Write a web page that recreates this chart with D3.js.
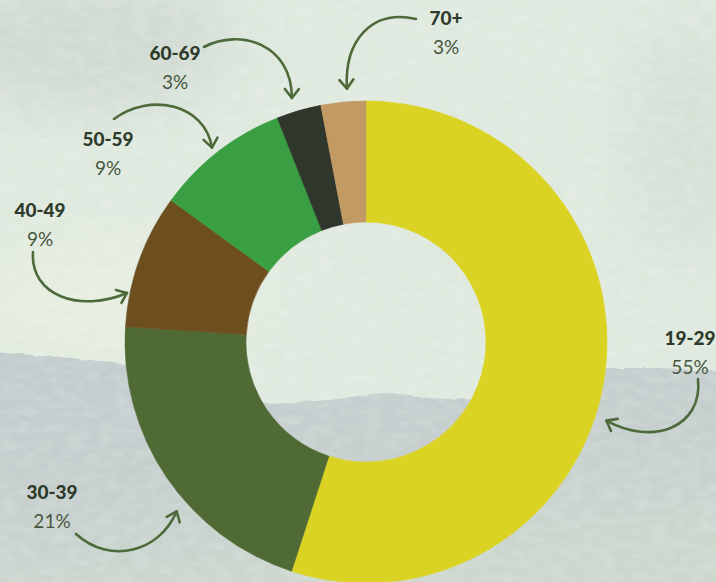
<!DOCTYPE html>
<html>
<head>
<meta charset="utf-8">
<script src="https://cdn.jsdelivr.net/npm/d3@7/dist/d3.min.js"></script>
<style>
  html, body { margin: 0; padding: 0; background: #dde8dc; }
  svg { display: block; }
</style>
</head>
<body>
<svg id="chart" width="716" height="582"></svg>
<script>
// Age groups and their share of respondents (%)
const ageGroups = ["19-29", "30-39", "40-49", "50-59", "60-69", "70+"];
const shares = [55, 21, 9, 9, 3, 3];
const shareLabels = ["55%", "21%", "9%", "9%", "3%", "3%"];
const sliceColors = ["#dbd324", "#4f6a34", "#6d4f1f", "#3a9f42", "#2f362c", "#c29a63"];

// Callout layout: label anchor, arrow start, arrow controls, and the angle/radius
// (clockwise from 12 o'clock) where the arrow tip touches the ring.
const callouts = [
  { label: [690, 345], start: [698, 379], c1: [703, 428], c2: [652, 446], tipDeg: 108.1, tipR: 253 },
  { label: [52, 499],  start: [76, 534],  c1: [110, 565], c2: [160, 552], tipDeg: -131.8, tipR: 254 },
  { label: [40, 217],  start: [33, 252],  c1: [30, 296],  c2: [80, 313],  tipDeg: -78.4, tipR: 244 },
  { label: [108, 146], start: [114, 119], c1: [150, 92],  c2: [205, 104], tipDeg: -38.4, tipR: 248 },
  { label: [175, 60],  start: [204, 47],  c1: [240, 28],  c2: [292, 44],  tipDeg: -16.9, tipR: 255 },
  { label: [446, 25],  start: [416, 19],  c1: [372, 9],   c2: [344, 40],  tipDeg: -4.3,  tipR: 254 }
];

const width = 716, height = 582;
const cx = 366, cy = 342;
const outerR = 241, innerR = 120;

const svg = d3.select("#chart");
const defs = svg.append("defs");

// paper grain
const grain = defs.append("filter").attr("id", "grain")
  .attr("x", 0).attr("y", 0).attr("width", "100%").attr("height", "100%");
grain.append("feTurbulence").attr("type", "fractalNoise")
  .attr("baseFrequency", "0.06 0.12").attr("numOctaves", 3).attr("seed", 4).attr("result", "n");
grain.append("feColorMatrix").attr("in", "n").attr("type", "matrix")
  .attr("values", "0 0 0 0 1  0 0 0 0 1  0 0 0 0 1  0 0 0 -1.6 1.05");

const soft = defs.append("filter").attr("id", "soft")
  .attr("x", "-20%").attr("y", "-20%").attr("width", "140%").attr("height", "140%");
soft.append("feGaussianBlur").attr("stdDeviation", 30);

const edge = defs.append("filter").attr("id", "edge");
edge.append("feTurbulence").attr("type", "fractalNoise").attr("baseFrequency", 0.07)
  .attr("numOctaves", 2).attr("seed", 7).attr("result", "t");
edge.append("feDisplacementMap").attr("in", "SourceGraphic").attr("in2", "t")
  .attr("scale", 4).attr("xChannelSelector", "R").attr("yChannelSelector", "G");

const bandGrad = defs.append("linearGradient").attr("id", "band")
  .attr("x1", 0).attr("y1", 0).attr("x2", 0.3).attr("y2", 1);
bandGrad.append("stop").attr("offset", 0).attr("stop-color", "#c3cbcd");
bandGrad.append("stop").attr("offset", 0.55).attr("stop-color", "#c6cfce");
bandGrad.append("stop").attr("offset", 1).attr("stop-color", "#ccd7ce");

const arrowHead = defs.append("marker").attr("id", "head")
  .attr("markerUnits", "userSpaceOnUse").attr("orient", "auto")
  .attr("markerWidth", 20).attr("markerHeight", 20)
  .attr("viewBox", "-12 -10 14 20").attr("refX", 0).attr("refY", 0)
  .style("overflow", "visible");
arrowHead.append("path").attr("d", "M-9,-7 L0,0 L-9,7")
  .attr("fill", "none").attr("stroke", "#4d6a3b").attr("stroke-width", 2.6)
  .attr("stroke-linecap", "round").attr("stroke-linejoin", "round");

// background wash
const bg = svg.append("g");
bg.append("rect").attr("width", width).attr("height", height).attr("fill", "#dfe9de");
bg.append("ellipse").attr("cx", 80).attr("cy", 40).attr("rx", 150).attr("ry", 70)
  .attr("fill", "#cad4cd").attr("opacity", 0.7).attr("filter", "url(#soft)");
bg.append("ellipse").attr("cx", 690).attr("cy", 140).attr("rx", 60).attr("ry", 120)
  .attr("fill", "#d0dbd1").attr("opacity", 0.6).attr("filter", "url(#soft)");
bg.append("ellipse").attr("cx", 120).attr("cy", 300).attr("rx", 140).attr("ry", 60)
  .attr("fill", "#e7f0df").attr("opacity", 0.8).attr("filter", "url(#soft)");

const bandPts = [[-10, 352], [60, 357], [130, 364], [200, 385], [270, 404], [330, 400],
  [380, 393], [430, 398], [480, 400], [540, 384], [600, 368], [660, 368], [726, 372],
  [726, 592], [-10, 592]];
bg.append("path")
  .attr("d", d3.line().curve(d3.curveLinear)(bandPts) + "Z")
  .attr("fill", "url(#band)").attr("filter", "url(#edge)");
bg.append("rect").attr("width", width).attr("height", height)
  .attr("filter", "url(#grain)").attr("opacity", 0.2);

// donut
const pie = d3.pie().value(d => d).sort(null);
const arc = d3.arc().innerRadius(innerR).outerRadius(outerR);
const arcs = pie(shares);

const ring = svg.append("g").attr("transform", `translate(${cx},${cy})`);
ring.selectAll("path.slice")
  .data(arcs)
  .join("path")
  .attr("class", "slice")
  .attr("d", arc)
  .attr("fill", (d, i) => sliceColors[i])
  .attr("stroke", (d, i) => sliceColors[i])
  .attr("stroke-width", 0.6);

// callout arrows
const toRad = Math.PI / 180;
const arrows = svg.append("g");
callouts.forEach((c, i) => {
  const p = d3.pointRadial(c.tipDeg * toRad, c.tipR);
  const tip = [cx + p[0], cy + p[1]];
  const path = d3.path();
  path.moveTo(c.start[0], c.start[1]);
  path.bezierCurveTo(c.c1[0], c.c1[1], c.c2[0], c.c2[1], tip[0], tip[1]);
  arrows.append("path")
    .attr("d", path.toString())
    .attr("fill", "none")
    .attr("stroke", "#4d6a3b")
    .attr("stroke-width", 2.6)
    .attr("stroke-linecap", "round")
    .attr("marker-end", "url(#head)");
});

// labels
const labels = svg.append("g").attr("text-anchor", "middle");
callouts.forEach((c, i) => {
  labels.append("text")
    .attr("x", c.label[0]).attr("y", c.label[1])
    .attr("font-family", "Lato, 'Open Sans', sans-serif")
    .attr("font-weight", 900)
    .attr("font-size", 19)
    .attr("fill", "#2e3b2b")
    .text(ageGroups[i]);
  labels.append("text")
    .attr("x", c.label[0]).attr("y", c.label[1] + 29)
    .attr("font-family", "Lato, 'Open Sans', sans-serif")
    .attr("font-weight", 400)
    .attr("font-size", 19)
    .attr("fill", "#46573f")
    .text(shareLabels[i]);
});
</script>
</body>
</html>
